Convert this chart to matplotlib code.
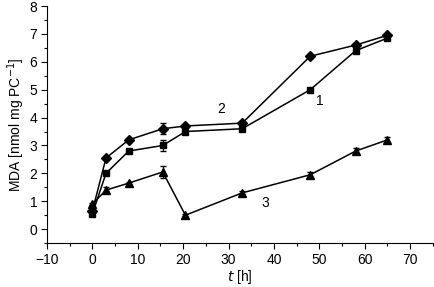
import matplotlib
matplotlib.use('Agg')
import matplotlib.pyplot as plt
from matplotlib.ticker import MultipleLocator

plt.rcParams['font.family'] = ['Liberation Sans', 'DejaVu Sans']

# ── datos ──
t_h = [0, 3, 8, 15.5, 20.5, 33, 48, 58, 65]
mda_1 = [0.55, 2.0, 2.8, 3.0, 3.5, 3.6, 5.0, 6.4, 6.85]     # cuadrados
mda_2 = [0.65, 2.55, 3.2, 3.6, 3.7, 3.8, 6.2, 6.6, 6.95]    # rombos
mda_3 = [0.9, 1.4, 1.65, 2.05, 0.5, 1.3, 1.95, 2.8, 3.2]    # triángulos
err_1 = [0.05, 0.05, 0.05, 0.2, 0.05, 0.05, 0.05, 0.05, 0.05]
err_2 = [0.05, 0.05, 0.05, 0.2, 0.05, 0.05, 0.05, 0.05, 0.05]
err_3 = [0.05, 0.1, 0.05, 0.2, 0.05, 0.05, 0.1, 0.1, 0.1]

FS = 10

fig = plt.figure(figsize=(4.35, 2.87), dpi=100)
ax = fig.add_axes([0.108, 0.153, 0.887, 0.826])

kw = dict(color='black', lw=1.1, capsize=2.5, elinewidth=0.8)
ax.errorbar(t_h, mda_1, yerr=err_1, marker='s', ms=5, **kw)
ax.errorbar(t_h, mda_2, yerr=err_2, marker='D', ms=5, **kw)
ax.errorbar(t_h, mda_3, yerr=err_3, marker='^', ms=6, **kw)

ax.text(28.4, 4.3, '2', fontsize=FS, ha='center', va='center')
ax.text(50, 4.6, '1', fontsize=FS, ha='center', va='center')
ax.text(38, 0.95, '3', fontsize=FS, ha='center', va='center')

ax.set_xlim(-10, 75)
ax.set_ylim(-0.5, 8)
ax.xaxis.set_major_locator(MultipleLocator(10))
ax.xaxis.set_minor_locator(MultipleLocator(5))
ax.yaxis.set_major_locator(MultipleLocator(1))
ax.yaxis.set_minor_locator(MultipleLocator(0.5))
ax.tick_params(labelsize=FS, direction='out', length=4, width=0.8, pad=3)
ax.tick_params(which='minor', length=2.5, width=0.8)
for s in ['top', 'right']:
    ax.spines[s].set_visible(False)
for s in ['left', 'bottom']:
    ax.spines[s].set_linewidth(0.8)

ax.set_xlabel('$t$ [h]', fontsize=FS, labelpad=1)
ax.set_ylabel('MDA [nmol mg PC$^{-1}$]', fontsize=FS, labelpad=2)

fig.savefig('out.png', dpi=100)
